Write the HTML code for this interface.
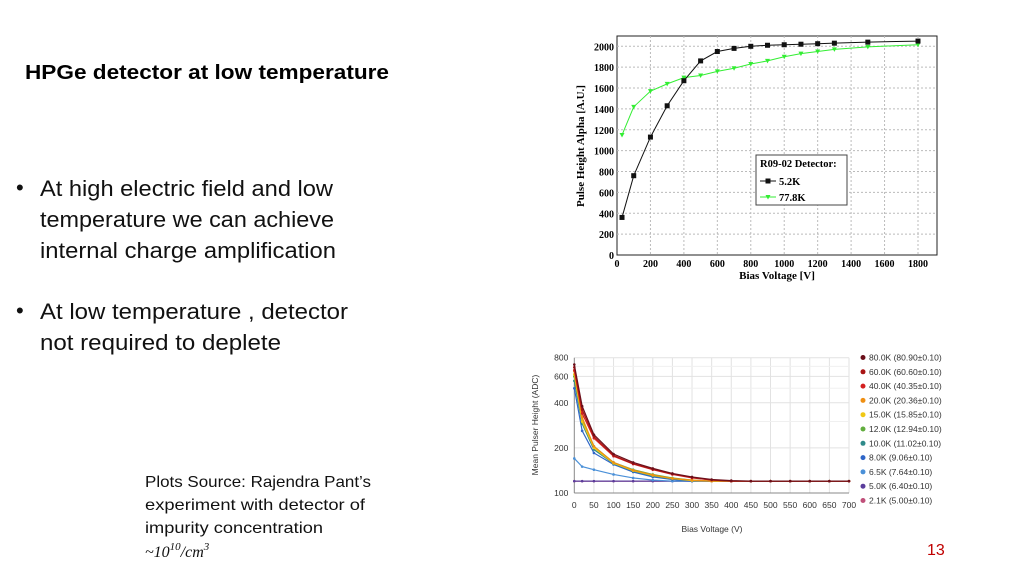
<!DOCTYPE html>
<html><head><meta charset="utf-8"><style>
body{margin:0;background:#fff;}
svg{display:block;font-family:"Liberation Sans",sans-serif;}
</style></head><body>
<svg id="s" width="1024" height="576" viewBox="0 0 1024 576" xmlns="http://www.w3.org/2000/svg">
<text x="25" y="79" font-size="20" font-weight="bold" textLength="364" lengthAdjust="spacingAndGlyphs">HPGe detector at low temperature</text>
<g font-size="22" fill="#111">
<text x="16" y="195">•</text>
<text x="40" y="196" textLength="293" lengthAdjust="spacingAndGlyphs">At high electric field and low</text>
<text x="40" y="227" textLength="294" lengthAdjust="spacingAndGlyphs">temperature we can achieve</text>
<text x="40" y="258" textLength="296" lengthAdjust="spacingAndGlyphs">internal charge amplification</text>
<text x="16" y="318">•</text>
<text x="40" y="319" textLength="308" lengthAdjust="spacingAndGlyphs">At low temperature , detector</text>
<text x="40" y="350" textLength="241" lengthAdjust="spacingAndGlyphs">not required to deplete</text>
</g>
<g font-size="16" fill="#111">
<text x="145" y="487" textLength="226" lengthAdjust="spacingAndGlyphs">Plots Source: Rajendra Pant’s</text>
<text x="145" y="510" textLength="220" lengthAdjust="spacingAndGlyphs">experiment with detector of</text>
<text x="145" y="533" textLength="178" lengthAdjust="spacingAndGlyphs">impurity concentration</text>
<text x="145" y="557" font-family="Liberation Serif,serif" font-style="italic">~10<tspan font-size="11" dy="-7">10</tspan><tspan dy="7">/cm</tspan><tspan font-size="11" dy="-7">3</tspan></text>
</g>
<text x="927" y="555" font-size="16" fill="#c00000">13</text>
<g id="c1"></g>
<g id="c2"></g>
</svg>
<script>
const NS="http://www.w3.org/2000/svg";
function mk(p,t,a,txt){const e=document.createElementNS(NS,t);for(const k in a)e.setAttribute(k,a[k]);if(txt!==undefined)e.textContent=txt;p.appendChild(e);return e;}
// ---- Chart 1 data
const c1X=[30,100,200,300,400,500,600,700,800,900,1000,1100,1200,1300,1500,1800];
const c1Cold=[360,760,1130,1430,1670,1860,1950,1980,2000,2010,2015,2020,2025,2030,2040,2050];
const c1Warm=[1150,1420,1570,1640,1700,1720,1760,1790,1830,1860,1900,1930,1950,1970,1995,2015];
const c1XTicks=[0,200,400,600,800,1000,1200,1400,1600,1800];
const c1YTicks=[0,200,400,600,800,1000,1200,1400,1600,1800,2000];
// ---- Chart 2 data
const c2X=[0,20,50,100,150,200,250,300,350,400,450,500,550,600,650,700];
const c2Names=["80.0K (80.90±0.10)","60.0K (60.60±0.10)","40.0K (40.35±0.10)","20.0K (20.36±0.10)","15.0K (15.85±0.10)","12.0K (12.94±0.10)","10.0K (11.02±0.10)","8.0K (9.06±0.10)","6.5K (7.64±0.10)","5.0K (6.40±0.10)","2.1K (5.00±0.10)"];
const c2Colors=["#6b0f1a","#a81414","#d42020","#ef8f12","#f0c814","#62ad3e","#2f8a8a","#2f66c8","#4a90d8","#5a3d9c","#c0507a"];
const s80=[720,380,245,182,160,146,135,128,123,121,120,120,120,120,120,120];
const s60=[690,360,238,178,157,144,134,127,122,120,120,120,120,120,120,120];
const s40=[660,340,232,176,156,143,133,126,122,120,120,120,120,120,120,120];
const s20=[650,320,205,160,142,132,125,122,120,120,120,120,120,120,120,120];
const s15=[620,300,200,158,141,131,125,121,120,120,120,120,120,120,120,120];
const s12=[600,310,205,160,143,133,126,122,120,120,120,120,120,120,120,120];
const s10=[560,290,195,157,140,130,124,121,120,120,120,120,120,120,120,120];
const s8=[500,260,185,155,138,128,123,120,120,120,120,120,120,120,120,120];
const s65=[170,150,143,133,126,122,120,120,120,120,120,120,120,120,120,120];
const s5=[120,120,120,120,120,120,120,120,120,120,120,120,120,120,120,120];
const s21=[120,120,120,120,120,120,120,120,120,120,120,120,120,120,120,120];
const c2Series=[s80,s60,s40,s20,s15,s12,s10,s8,s65,s5,s21];
const c2XTicks=[0,50,100,150,200,250,300,350,400,450,500,550,600,650,700];
const c2YTicks=[100,200,400,600,800];

// ---- Chart 1 draw
(function(){
const g=document.getElementById('c1');
const L=617,R=937,T=36,B=255;
const xs=v=>L+v*(918-L)/1800, ys=v=>B-v*(B-46.3)/2000;
mk(g,'rect',{x:L,y:T,width:R-L,height:B-T,fill:'#fff',stroke:'#222','stroke-width':1});
c1XTicks.forEach(v=>{if(v>0){const l=mk(g,'line',{x1:xs(v),x2:xs(v),y1:T,y2:B,stroke:'#bbb','stroke-dasharray':'2,2'});}
 const t=mk(g,'text',{x:xs(v),y:B+12,'text-anchor':'middle','font-size':10,'font-weight':'bold','font-family':'Liberation Serif,serif'},v);});
c1YTicks.forEach(v=>{if(v>0){const l=mk(g,'line',{x1:L,x2:R,y1:ys(v),y2:ys(v),stroke:'#bbb','stroke-dasharray':'2,2'});}
 const t=mk(g,'text',{x:L-3,y:ys(v)+4,'text-anchor':'end','font-size':10,'font-weight':'bold','font-family':'Liberation Serif,serif'},v);});
let t=mk(g,'text',{x:777,y:279,'text-anchor':'middle','font-size':11,'font-weight':'bold','font-family':'Liberation Serif,serif'},'Bias Voltage [V]');

t=mk(g,'text',{x:0,y:0,transform:'translate(584,146) rotate(-90)','text-anchor':'middle','font-size':11,'font-weight':'bold','font-family':'Liberation Serif,serif'},'Pulse Height Alpha [A.U.]');

function series(vals,col,sq,name){const p=mk(g,'polyline',{points:c1X.map((x,i)=>xs(x)+','+ys(vals[i])).join(' '),fill:'none',stroke:col,'stroke-width':1});
 
 c1X.forEach((x,i)=>{const cx=xs(x),cy=ys(vals[i]);let m;
  if(sq)m=mk(g,'rect',{x:cx-2.5,y:cy-2.5,width:5,height:5,fill:col});
  else m=mk(g,'polygon',{points:`${cx-2.5},${cy-2} ${cx+2.5},${cy-2} ${cx},${cy+2.5}`,fill:col});
  });}
series(c1Warm,'#33ee33',false,'series-77-8k');
series(c1Cold,'#111',true,'series-5-2k');
const lg=mk(g,'g',{});
mk(lg,'rect',{x:756,y:155,width:91,height:50,fill:'#fff',stroke:'#444'});
mk(lg,'text',{x:760,y:167,'font-size':10.5,'font-weight':'bold','font-family':'Liberation Serif,serif'},'R09-02 Detector:');
mk(lg,'line',{x1:760,x2:776,y1:181,y2:181,stroke:'#111'});mk(lg,'rect',{x:765.5,y:178.5,width:5,height:5,fill:'#111'});
mk(lg,'text',{x:779,y:185,'font-size':10.5,'font-weight':'bold','font-family':'Liberation Serif,serif'},'5.2K');
mk(lg,'line',{x1:760,x2:776,y1:197,y2:197,stroke:'#33ee33'});mk(lg,'polygon',{points:'765.5,195 770.5,195 768,199.5',fill:'#33ee33'});
mk(lg,'text',{x:779,y:201,'font-size':10.5,'font-weight':'bold','font-family':'Liberation Serif,serif'},'77.8K');
})();

// ---- Chart 2 draw
(function(){
const g=document.getElementById('c2');
const L=574.3,R=849,T=357.7,B=493;
const xs=v=>L+v*(R-L)/700, ys=v=>B-Math.log(v/100)/Math.log(8)*(B-T);
c2XTicks.forEach(v=>{if(v>0){const l=mk(g,'line',{x1:xs(v),x2:xs(v),y1:T,y2:B,stroke:'#e2e2e2'});}
 const t=mk(g,'text',{x:xs(v),y:B+15,'text-anchor':'middle','font-size':8.5,fill:'#333'},v);});
c2YTicks.forEach(v=>{const l=mk(g,'line',{x1:L,x2:R,y1:ys(v),y2:ys(v),stroke:'#e2e2e2'});
 const t=mk(g,'text',{x:L-6,y:ys(v)+3,'text-anchor':'end','font-size':8.5,fill:'#333'},v);});
[300,500,700].forEach(v=>{const l=mk(g,'line',{x1:L,x2:R,y1:ys(v),y2:ys(v),stroke:'#f0f0f0'});});
mk(g,'line',{x1:L,x2:L,y1:T,y2:B,stroke:'#888'});mk(g,'line',{x1:L,x2:R,y1:B,y2:B,stroke:'#888'});
let t=mk(g,'text',{x:712,y:532,'text-anchor':'middle','font-size':8.5,fill:'#333'},'Bias Voltage (V)');

t=mk(g,'text',{x:0,y:0,transform:'translate(538,425) rotate(-90)','text-anchor':'middle','font-size':8.5,fill:'#333'},'Mean Pulser Height (ADC)');

for(let k=c2Series.length-1;k>=0;k--){const vals=c2Series[k],col=c2Colors[k];
 const p=mk(g,'polyline',{points:c2X.map((x,i)=>xs(x)+','+ys(vals[i])).join(' '),fill:'none',stroke:col,'stroke-width':1.2});
 
 c2X.forEach((x,i)=>{const c=mk(g,'circle',{cx:xs(x),cy:ys(vals[i]),r:1.3,fill:col});});}
c2Names.forEach((n,k)=>{const y=357.5+k*14.3;
 const c=mk(g,'circle',{cx:863,cy:y,r:2.5,fill:c2Colors[k]});
 const t=mk(g,'text',{x:869,y:y+3,'font-size':8.5,fill:'#333'},n);});
})();
</script>
</body></html>
